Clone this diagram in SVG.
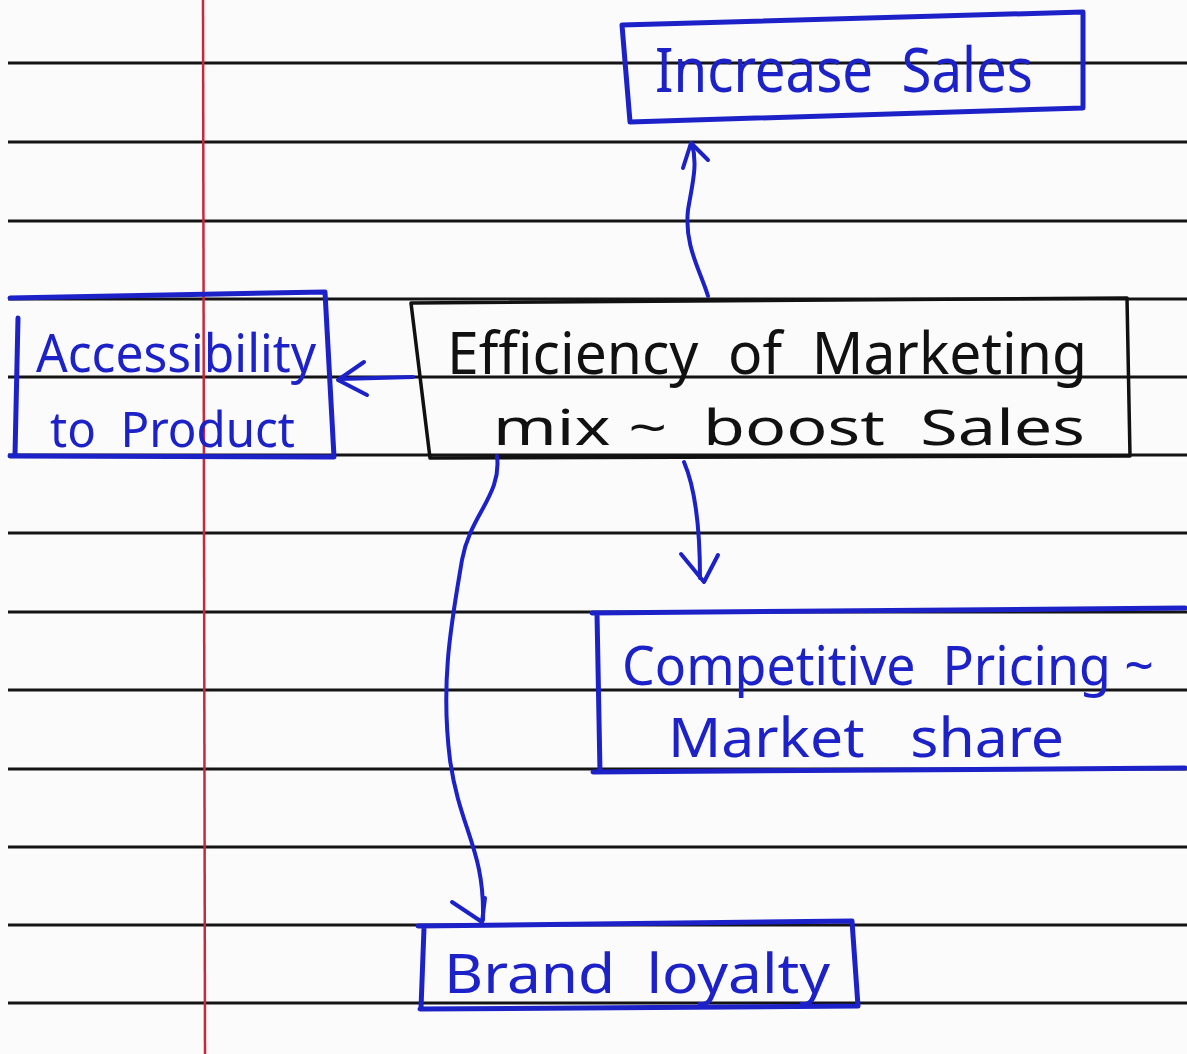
<svg xmlns="http://www.w3.org/2000/svg" width="1187" height="1054" viewBox="0 0 1187 1054">
<style>
.rule{stroke:#141414;stroke-width:3;fill:none}
.margin{stroke:#c8283c;stroke-width:2.5;fill:none}
.bbox{fill:none;stroke:#1c22c8;stroke-width:5;stroke-linejoin:round;stroke-linecap:round}
.kbox{fill:none;stroke:#111;stroke-width:3.5;stroke-linejoin:round;stroke-linecap:round}
text{white-space:pre}
.btxt{font-family:"Noto Sans","Liberation Sans",sans-serif;fill:#1c22c8}
.ktxt{font-family:"Noto Sans","Liberation Sans",sans-serif;fill:#111}
.conn{fill:none;stroke:#1c22c8;stroke-width:4;stroke-linecap:round;stroke-linejoin:round}
</style>
<rect width="1187" height="1054" fill="#fbfbfb"/>
<g id="paper">
<path class="rule" d="M8 63H1187M8 142H1187M8 221H1187M8 299H1187M8 377H1187M8 455H1187M8 533H1187M8 612H1187M8 690H1187M8 769H1187M8 847H1187M8 925H1187M8 1003H1187"/>
<path class="margin" d="M203 0L205 1054"/>
</g>
<g id="node-increase-sales">
<polygon class="bbox" points="622,25 1083,12 1083,108 630,122"/>
<text class="btxt" x="655" y="92" font-size="62" textLength="378" lengthAdjust="spacingAndGlyphs">Increase  Sales</text>
</g>
<g id="node-efficiency">
<path class="kbox" d="M411 303L1127 298L1130 456L430 458L411 303"/>
<text class="ktxt" x="447" y="374" font-size="58" textLength="640" lengthAdjust="spacingAndGlyphs">Efficiency  of  Marketing</text>
<text class="ktxt" x="493" y="445" font-size="50" textLength="592" lengthAdjust="spacingAndGlyphs">mix ~  boost  Sales</text>
</g>
<g id="node-accessibility">
<path class="bbox" d="M10 298L325 292L334 457L10 456M18 318L15 455"/>
<text class="btxt" x="36" y="372" font-size="52" textLength="280" lengthAdjust="spacingAndGlyphs">Accessibility</text>
<text class="btxt" x="50" y="447" font-size="50" textLength="245" lengthAdjust="spacingAndGlyphs">to  Product</text>
</g>
<g id="node-competitive">
<path class="bbox" d="M592 613L1185 608M597 613L600 772M593 772L1185 768"/>
<text class="btxt" x="622" y="685" font-size="55" textLength="532" lengthAdjust="spacingAndGlyphs">Competitive  Pricing ~</text>
<text class="btxt" x="668" y="757" font-size="54" textLength="396" lengthAdjust="spacingAndGlyphs">Market   share</text>
</g>
<g id="node-brand-loyalty">
<path class="bbox" d="M418 926L852 921L858 1006L420 1009M424 928L421 1008"/>
<text class="btxt" x="444" y="993" font-size="54" textLength="386" lengthAdjust="spacingAndGlyphs">Brand  loyalty</text>
</g>
<g id="connectors">
<path class="conn" d="M708 296C700 270 684 245 688 210C692 185 698 165 692 144"/>
<path class="conn" d="M683 168L691 143L708 160"/>
<path class="conn" d="M413 377L340 379"/>
<path class="conn" d="M364 362L338 380L367 395"/>
<path class="conn" d="M684 462C696 490 700 530 700 578"/>
<path class="conn" d="M681 554L704 582L718 555"/>
<path class="conn" d="M497 456C502 495 470 515 462 560C452 620 440 680 450 760C460 830 485 850 483 920"/>
<path class="conn" d="M452 902L482 922L485 898"/>
</g>
</svg>
